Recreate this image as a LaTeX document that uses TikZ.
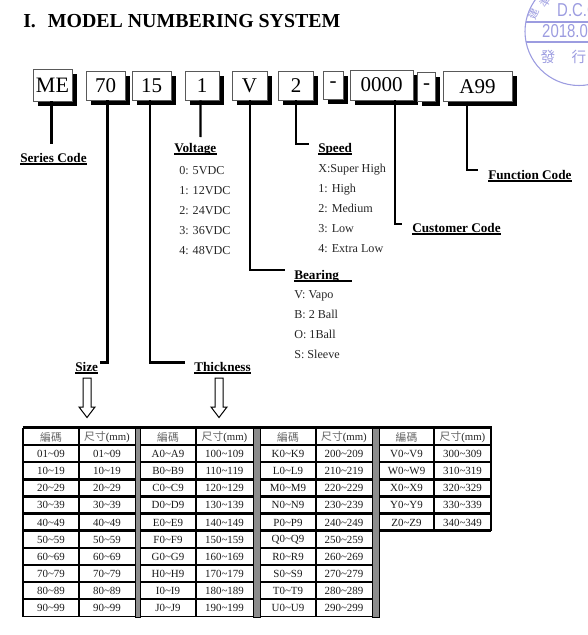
\documentclass[tikz,border=0pt]{standalone}
\usepackage{fontspec}
\setmainfont{Liberation Serif}
\setsansfont{Liberation Sans}
\newfontfamily\cjk{Noto Sans CJK TC}
\usetikzlibrary{shadows}
\definecolor{stampc}{HTML}{9C9CE0}
\definecolor{barc}{HTML}{8C8C8C}
\newcommand\tld{\textasciitilde}
\tikzset{
  x=0.75pt,y=-0.75pt,
  codebox/.style={draw=black!65,line width=0.7pt,fill=white,inner sep=0pt,
    drop shadow={shadow xshift=3.4pt,shadow yshift=-3.4pt,fill=black,opacity=1},
    font=\fontsize{15.75}{18}\selectfont},
  conn/.style={line width=1.6pt,black,line join=miter},
  head/.style={font=\fontsize{9.9}{11}\selectfont\bfseries,anchor=base west,inner sep=0pt,text depth=0pt},
  uline/.style={line width=1.2pt,black},
  item/.style={font=\fontsize{9.1}{11}\selectfont,anchor=base west,inner sep=0pt,text=black!85},
  blockarrow/.style={draw=black,line width=0.75pt,fill=white},
  cell/.style={font=\fontsize{8.2}{10}\selectfont,inner sep=0pt,text=black!90},
  hcell/.style={font=\fontsize{8.1}{10}\selectfont,inner sep=0pt,text=black!85},
  rulethick/.style={line width=1.6pt,black},
  stamp/.style={stampc,inner sep=0pt},
  stamplatin/.style={stamp,font=\sffamily\fontsize{14}{16}\selectfont,anchor=base west,xscale=0.8,transform shape},
}
\begin{document}
\begin{tikzpicture}
\useasboundingbox (0,0) rectangle (588,635);
% stamp
\begin{scope}
\clip (0,0) rectangle (588,635);
\draw[stampc,line width=0.8pt] (579,31.5) circle (54);
\begin{scope}
\clip (579,31.5) circle (54);
\draw[stampc,line width=0.8pt] (520,22) -- (640,22) (520,42) -- (640,42);
\end{scope}
\node[stamplatin] (stampdc) at (557,17) {D.C.C};
\node[stamplatin] (stampdate) at (542,38) {2018.02};
\node[stamp,font=\cjk\fontsize{11}{13}\selectfont] (stampa) at (548,57) {發};
\node[stamp,font=\cjk\fontsize{11}{13}\selectfont] (stampb) at (579,57) {行};
\node[stamp,font=\cjk\fontsize{8}{10}\selectfont,rotate=68] (stampc1) at (534,14) {建};
\node[stamp,font=\cjk\fontsize{8}{10}\selectfont,rotate=52] (stampc2) at (546,2) {準};
\end{scope}
% title
\node[font=\fontsize{14.9}{18}\selectfont\bfseries,anchor=base west,inner sep=0pt] (title) at (23,28) {I.\hspace{0.6em}MODEL NUMBERING SYSTEM};
% code boxes
\node[codebox,minimum width=29.25pt,minimum height=24pt,font=\fontsize{16.5}{18}\selectfont] (nme) at (52.5,85) {ME};
\node[codebox,minimum width=29.25pt,minimum height=21.75pt] (nsize) at (105.5,85.5) {70};
\node[codebox,minimum width=29.25pt,minimum height=21.75pt] (nthick) at (151.5,85.5) {15};
\node[codebox,minimum width=25.5pt,minimum height=21.75pt] (nvolt) at (202,85.5) {1};
\node[codebox,minimum width=26.25pt,minimum height=21.75pt] (nbear) at (249.5,85.5) {V};
\node[codebox,minimum width=26.25pt,minimum height=21.75pt] (nspeed) at (296,85.5) {2};
\node[codebox,minimum width=15pt,minimum height=21pt] (ndash) at (333,85) {\raisebox{-1.5pt}{-}};
\node[codebox,minimum width=47.25pt,minimum height=22.5pt] (ncust) at (381.5,85) {0000};
\node[codebox,minimum width=14pt,minimum height=22pt] (ndashb) at (426.5,87) {\raisebox{-1.5pt}{-}};
\node[codebox,minimum width=51.75pt,minimum height=22pt] (nfunc) at (477.5,86.5) {A99};
% labels
\node[head] (lseries) at (20,162) {Series Code};
\node[head] (lvolt) at (174,152) {Voltage};
\node[head] (lspeed) at (318,152) {Speed};
\node[head] (lbear) at (294,279) {Bearing};
\node[head] (lfunc) at (488,179) {Function Code};
\node[head] (lcust) at (412,232) {Customer Code};
\node[head] (lsize) at (75,371) {Size};
\node[head] (lthick) at (194,371) {Thickness};
\foreach \n in {lseries,lvolt,lspeed,lfunc,lcust,lsize,lthick}
  \draw[uline] ([yshift=-1.3pt]\n.south west) -- ([yshift=-1.3pt]\n.south east);
\draw[uline] ([yshift=-1.3pt]lbear.south west) -- ([yshift=-1.3pt,xshift=9.5pt]lbear.south east);
% lists
\foreach \txa [count=\k] in {0: 5VDC,1: 12VDC,2: 24VDC,3: 36VDC,4: 48VDC}
  \node[item] (v\k) at (179,154+\k*20) {\txa};
\foreach \txa [count=\k] in {X:Super High,1: High,2: Medium,3: Low,4: Extra Low}
  \node[item] (s\k) at (318,152+\k*20) {\txa};
\foreach \txa [count=\k] in {V: Vapo,B: 2 Ball,O: 1Ball,S: Sleeve}
  \node[item] (b\k) at (294,278+\k*20) {\txa};
% connectors
\coordinate (eseries) at (51.5,144);
\coordinate (evolt) at (200.5,137);
\coordinate (esize) at (100,362.5);
\coordinate (ethick) at (185,362.5);
\coordinate (ebear) at (285,270);
\coordinate (espeed) at (309,144);
\coordinate (ecust) at (402,224);
\coordinate (efunc) at (478,170);
\draw[conn] ([xshift=-0.75pt]nme.south) -- (eseries);
\draw[conn] ([xshift=-1.1pt]nvolt.south) -- (evolt);
\draw[conn] ([xshift=1.5pt]nsize.south) |- (esize);
\draw[conn] ([xshift=-1.1pt]nthick.south) |- (ethick);
\draw[conn] ([xshift=0.4pt]nbear.south) |- (ebear);
\draw[conn] (nspeed.south) |- (espeed);
\draw[conn] ([xshift=10pt]ncust.south) |- (ecust);
\draw[conn] ([xshift=-7.9pt]nfunc.south) |- (efunc);
% block arrows
\foreach \cx in {87,219}
  \draw[blockarrow] (\cx-4,378) -- (\cx+4,378) -- (\cx+4,407) -- (\cx+8,407) -- (\cx,417.5) -- (\cx-8,407) -- (\cx-4,407) -- cycle;
% table: grey bars
\foreach \xa/\xb in {135/140,253/260,372/379}
  \draw[black,line width=0.5pt,fill=barc] (\xa,427.5) rectangle (\xb,617);
% horizontal rules
\draw[rulethick] (22.5,427.5) -- (491.5,427.5);
\foreach \yy in {445,462,479.5,496.5,513.5,530.5}{
  \draw[rulethick] (23,\yy) -- (135,\yy);
  \draw[rulethick] (140,\yy) -- (253,\yy);
  \draw[rulethick] (260,\yy) -- (372,\yy);
  \draw[rulethick] (379,\yy) -- (491,\yy);
}
\foreach \yy in {548,565,582,599}{
  \draw[rulethick] (23,\yy) -- (135,\yy);
  \draw[rulethick] (140,\yy) -- (253,\yy);
  \draw[rulethick] (260,\yy) -- (372,\yy);
}
\foreach \xa/\xb in {23/135,140/253,260/372}
  \draw[black,line width=0.5pt] (\xa,616.5) -- (\xb,616.5);
% vertical rules
\draw[line width=1.8pt] (23,427.5) -- (23,617);
\foreach \xx in {79,196,316}
  \draw[rulethick] (\xx,427.5) -- (\xx,617);
\foreach \xx in {434,491}
  \draw[rulethick] (\xx,427.5) -- (\xx,531);
% table headers
\foreach \xa/\xb [count=\k] in {51/107,168/224.5,288/344,406.5/462.5}{
  \node[hcell,text=black!60] (hc\k) at (\xa,437.5) {\cjk 編碼};
  \node[hcell] (hs\k) at (\xb,437.5) {{\cjk\color{black!60}尺寸}(mm)};
}
% table body
\foreach \txa [count=\k] in {01\tld09,10\tld19,20\tld29,30\tld39,40\tld49,50\tld59,60\tld69,70\tld79,80\tld89,90\tld99}{
  \node[cell] (ca\k) at (51,437.2+\k*17.05) {\txa};
  \node[cell] (cb\k) at (107,437.2+\k*17.05) {\txa};
}
\foreach \txa/\txb [count=\k] in {A0\tld A9/100\tld109,B0\tld B9/110\tld119,C0\tld C9/120\tld129,D0\tld D9/130\tld139,E0\tld E9/140\tld149,F0\tld F9/150\tld159,G0\tld G9/160\tld169,H0\tld H9/170\tld179,I0\tld I9/180\tld189,J0\tld J9/190\tld199}{
  \node[cell] (cc\k) at (168,437.2+\k*17.05) {\txa};
  \node[cell] (cd\k) at (224.5,437.2+\k*17.05) {\txb};
}
\foreach \txa/\txb [count=\k] in {K0\tld K9/200\tld209,L0\tld L9/210\tld219,M0\tld M9/220\tld229,N0\tld N9/230\tld239,P0\tld P9/240\tld249,Q0\tld Q9/250\tld259,R0\tld R9/260\tld269,S0\tld S9/270\tld279,T0\tld T9/280\tld289,U0\tld U9/290\tld299}{
  \node[cell] (ce\k) at (288,437.2+\k*17.05) {\txa};
  \node[cell] (cf\k) at (344,437.2+\k*17.05) {\txb};
}
\foreach \txa/\txb [count=\k] in {V0\tld V9/300\tld309,W0\tld W9/310\tld319,X0\tld X9/320\tld329,Y0\tld Y9/330\tld339,Z0\tld Z9/340\tld349}{
  \node[cell] (cg\k) at (406.5,437.2+\k*17.05) {\txa};
  \node[cell] (ch\k) at (462.5,437.2+\k*17.05) {\txb};
}
\end{tikzpicture}
\end{document}
